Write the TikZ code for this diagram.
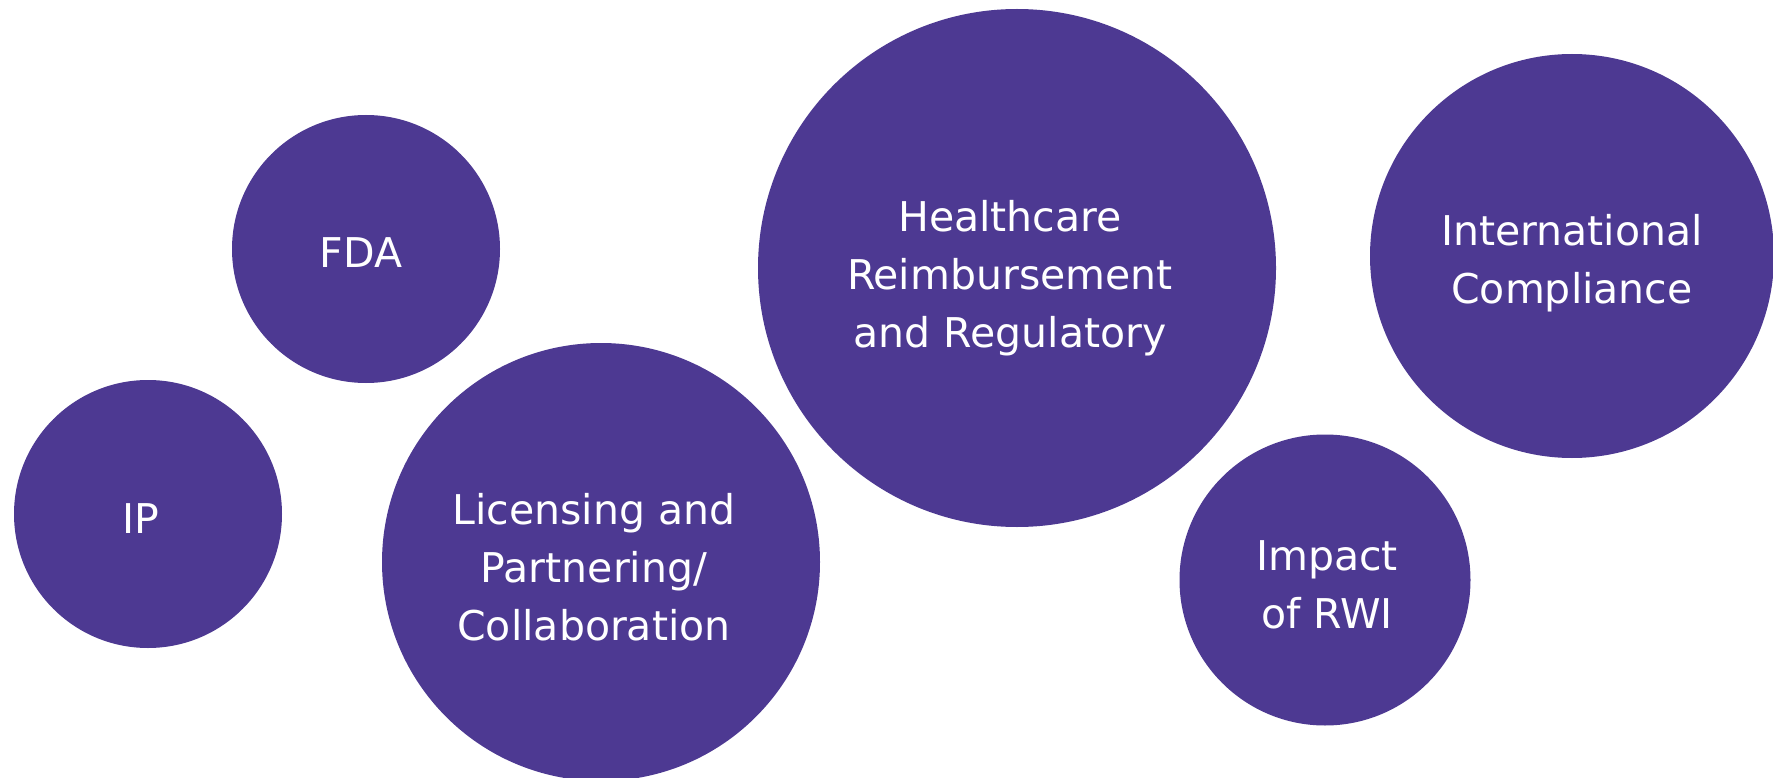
\documentclass[tikz,border=0pt]{standalone}
\usepackage{fontspec}
\setmainfont{DejaVu Sans}
\definecolor{bubblepurple}{HTML}{4D3992}
\tikzset{
  bubble/.style={circle, fill=bubblepurple, draw=none, inner sep=0pt},
  bubbletext/.style={text=white, align=center, inner sep=0pt, font=\fontsize{41}{58}\selectfont}
}
\begin{document}
\begin{tikzpicture}[x=1pt,y=-1pt]
\useasboundingbox (0,0) rectangle (1773,778);
\clip (0,0) rectangle (1773,778);
\fill[white] (0,0) rectangle (1773,778);
\node[bubble, minimum size=268pt] (fda) at (366,249) {};
\node[bubble, minimum size=268pt] (ip) at (148,514) {};
\node[bubble, minimum size=438pt] (lic) at (601,562) {};
\node[bubble, minimum size=518pt] (hc) at (1017,268) {};
\node[bubble, minimum size=404pt] (intl) at (1572,256) {};
\node[bubble, minimum size=291pt] (rwi) at (1325,580) {};

\node[bubbletext] (fdat) at ([shift={(-5,4)}]fda.center) {FDA};
\node[bubbletext] (ipt) at ([shift={(-7,5)}]ip.center) {IP};
\node[bubbletext] (lict) at ([shift={(-7,5)}]lic.center) {Licensing and\\Partnering/\\Collaboration};
\node[bubbletext] (hct) at ([shift={(-7,10)}]hc.center) {Healthcare\\Reimbursement\\and Regulatory};
\node[bubbletext] (intlt) at ([shift={(0,7)}]intl.center) {International\\Compliance};
\node[bubbletext] (rwit) at ([shift={(2,5)}]rwi.center) {Impact\\of RWI};
\end{tikzpicture}
\end{document}
